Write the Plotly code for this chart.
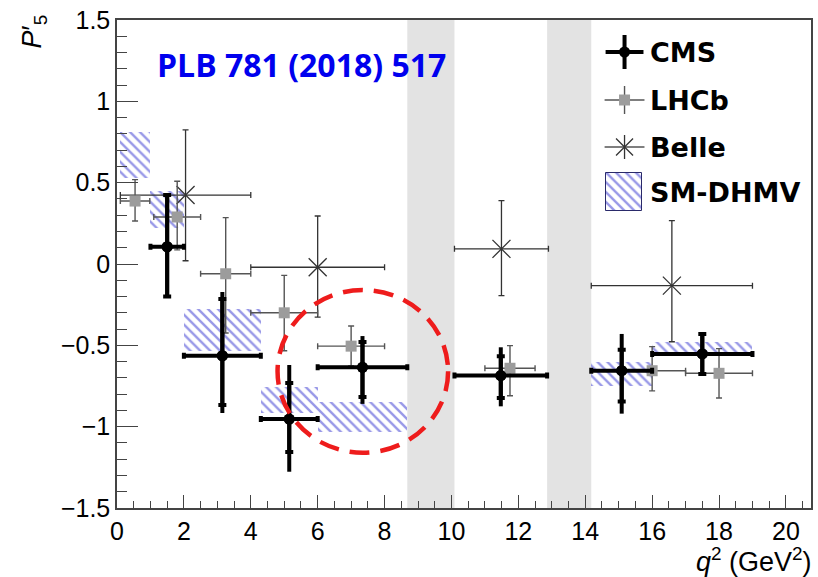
import plotly.graph_objects as go

# ---------------- data ----------------
# CMS (PLB 781 (2018) 517)
cms_xlo = [1.0, 2.0, 4.3, 6.0, 10.09, 14.18, 16.0]
cms_xhi = [2.0, 4.3, 6.0, 8.68, 12.86, 16.0, 19.0]
cms_y = [0.106, -0.564, -0.953, -0.635, -0.686, -0.656, -0.553]
cms_stat_hi = [0.424, -0.215, -0.731, -0.479, -0.567, -0.527, -0.430]
cms_stat_lo = [-0.200, -0.867, -1.155, -0.817, -0.824, -0.846, -0.676]
cms_tot_hi = [0.424, -0.172, -0.621, -0.443, -0.512, -0.430, -0.420]
cms_tot_lo = [-0.200, -0.916, -1.277, -0.860, -0.875, -0.920, -0.686]

# LHCb
lhcb_xlo = [0.1, 1.1, 2.5, 4.0, 6.0, 11.0, 15.0, 17.0]
lhcb_xhi = [0.98, 2.5, 4.0, 6.0, 8.0, 12.5, 17.0, 19.0]
lhcb_y = [0.387, 0.289, -0.060, -0.300, -0.505, -0.641, -0.656, -0.672]
lhcb_err_up = [0.132, 0.220, 0.345, 0.230, 0.124, 0.139, 0.148, 0.152]
lhcb_err_dn = [0.123, 0.202, 0.364, 0.233, 0.122, 0.169, 0.124, 0.152]

# Belle
belle_xlo = [0.1, 4.0, 10.09, 14.18]
belle_xhi = [4.0, 8.0, 12.9, 19.0]
belle_y = [0.424, -0.020, 0.093, -0.133]
belle_err_up = [0.400, 0.315, 0.296, 0.400]
belle_err_dn = [0.404, 0.306, 0.288, 0.345]

# SM-DHMV prediction bands
sm_xlo = [0.1, 1.0, 2.0, 4.3, 6.0, 14.18, 16.0]
sm_xhi = [0.98, 2.0, 4.3, 6.0, 8.68, 16.0, 19.0]
sm_lo = [0.530, 0.222, -0.533, -0.916, -1.030, -0.748, -0.564]
sm_hi = [0.812, 0.450, -0.277, -0.758, -0.850, -0.604, -0.478]

# vetoed resonance regions
veto_lo = [8.68, 12.86]
veto_hi = [10.09, 14.18]

legend_names = ["CMS", "LHCb", "Belle", "SM-DHMV"]
x_ticks = [0, 2, 4, 6, 8, 10, 12, 14, 16, 18, 20]
y_ticks = [-1.5, -1, -0.5, 0, 0.5, 1, 1.5]
y_ticklabels = ["\u22121.5", "\u22121", "\u22120.5", "0", "0.5", "1", "1.5"]

# ---------------- helpers ----------------
def mids(lo, hi):
    return [(a + b) / 2 for a, b in zip(lo, hi)]

def halfw(lo, hi):
    return [(b - a) / 2 for a, b in zip(lo, hi)]

HATCH = "#3030d0"
HATCH_PAT = dict(shape="\\", size=7, solidity=0.34, fgcolor=HATCH,
                 bgcolor="rgba(255,255,255,0)", fillmode="overlay")
fig = go.Figure()

# SM hatched boxes
fig.add_trace(go.Bar(
    x=mids(sm_xlo, sm_xhi),
    width=[b - a for a, b in zip(sm_xlo, sm_xhi)],
    base=sm_lo,
    y=[h - l for l, h in zip(sm_lo, sm_hi)],
    marker=dict(color="rgba(0,0,0,0)", line=dict(width=0), pattern=HATCH_PAT),
    showlegend=False, hoverinfo="skip",
))

# Belle
bx = mids(belle_xlo, belle_xhi)
fig.add_trace(go.Scatter(
    x=bx, y=belle_y, mode="markers",
    marker=dict(symbol="x-thin", size=18, color="#333333",
                line=dict(width=1.3, color="#333333")),
    error_x=dict(type="data", array=halfw(belle_xlo, belle_xhi),
                 color="#333333", thickness=1.3, width=3),
    error_y=dict(type="data", symmetric=False, array=belle_err_up,
                 arrayminus=belle_err_dn, color="#333333", thickness=1.3, width=3),
    showlegend=False,
))

# LHCb
lx = mids(lhcb_xlo, lhcb_xhi)
fig.add_trace(go.Scatter(
    x=lx, y=lhcb_y, mode="markers",
    marker=dict(symbol="square", size=11, color="#9c9c9c"),
    error_x=dict(type="data", array=halfw(lhcb_xlo, lhcb_xhi),
                 color="#555555", thickness=1.4, width=3),
    error_y=dict(type="data", symmetric=False, array=lhcb_err_up,
                 arrayminus=lhcb_err_dn, color="#555555", thickness=1.4, width=3),
    showlegend=False,
))

# CMS total
cx = mids(cms_xlo, cms_xhi)
fig.add_trace(go.Scatter(
    x=cx, y=cms_y, mode="markers",
    marker=dict(symbol="circle", size=11, color="black"),
    error_x=dict(type="data", array=halfw(cms_xlo, cms_xhi),
                 color="black", thickness=4, width=3),
    error_y=dict(type="data", symmetric=False,
                 array=[h - y for h, y in zip(cms_tot_hi, cms_y)],
                 arrayminus=[y - l for l, y in zip(cms_tot_lo, cms_y)],
                 color="black", thickness=4, width=0),
    showlegend=False,
))
# CMS stat (caps)
fig.add_trace(go.Scatter(
    x=cx, y=cms_y, mode="markers",
    marker=dict(symbol="circle", size=11, color="black"),
    error_y=dict(type="data", symmetric=False,
                 array=[h - y for h, y in zip(cms_stat_hi, cms_y)],
                 arrayminus=[y - l for l, y in zip(cms_stat_lo, cms_y)],
                 color="black", thickness=4, width=4),
    showlegend=False,
))

# ---------------- custom legend (pixel-coordinate overlay axes) ----------------
LX = 626
rows = [52, 100, 147, 192]
fig.add_trace(go.Scatter(
    x=[LX], y=[rows[0]], xaxis="x2", yaxis="y2", mode="markers",
    marker=dict(symbol="circle", size=11, color="black"),
    error_x=dict(type="constant", value=19, color="black", thickness=4, width=0),
    error_y=dict(type="constant", value=17, color="black", thickness=4, width=0),
    showlegend=False, hoverinfo="skip"))
fig.add_trace(go.Scatter(
    x=[LX], y=[rows[1]], xaxis="x2", yaxis="y2", mode="markers",
    marker=dict(symbol="square", size=11, color="#9c9c9c"),
    error_x=dict(type="constant", value=20, color="#555555", thickness=1.4, width=0),
    error_y=dict(type="constant", value=14, color="#555555", thickness=1.4, width=0),
    showlegend=False, hoverinfo="skip"))
fig.add_trace(go.Scatter(
    x=[LX], y=[rows[2]], xaxis="x2", yaxis="y2", mode="markers",
    marker=dict(symbol="x-thin", size=17, color="#333333",
                line=dict(width=1.3, color="#333333")),
    error_x=dict(type="constant", value=20, color="#555555", thickness=1.3, width=0),
    error_y=dict(type="constant", value=12, color="#333333", thickness=1.3, width=0),
    showlegend=False, hoverinfo="skip"))
fig.add_trace(go.Bar(
    x=[LX - 0.5], width=[37], base=[rows[3] - 19], y=[38], xaxis="x2", yaxis="y2",
    marker=dict(color="rgba(0,0,0,0)", line=dict(width=1, color="#2a2a6a"),
                pattern=HATCH_PAT),
    showlegend=False, hoverinfo="skip"))

annotations = []
for name, ry in zip(legend_names, rows):
    annotations.append(dict(
        x=650, y=ry, xref="x2", yref="y2", text="<b>" + name + "</b>",
        showarrow=False, xanchor="left", yanchor="middle",
        font=dict(family="DejaVu Sans", size=27, color="black")))

annotations.append(dict(
    x=155, y=64, xref="x2", yref="y2", text="<b>PLB 781 (2018) 517</b>",
    showarrow=False, xanchor="left", yanchor="middle",
    font=dict(family="Open Sans", size=32, color="#0000ee")))

# axis titles
annotations.append(dict(
    x=1.005, y=-0.107, xref="paper", yref="paper",
    text="<i>q</i><sup>2</sup> (GeV<sup>2</sup>)", showarrow=False,
    xanchor="right", yanchor="middle",
    font=dict(family="Liberation Sans", size=27, color="black")))
annotations.append(dict(
    x=-0.12, y=1.015, xref="paper", yref="paper",
    text="<i>P</i>\u2032<sub>5</sub>", showarrow=False, textangle=-90,
    xanchor="center", yanchor="top",
    font=dict(family="Liberation Sans", size=27, color="black")))

shapes = []
for a, b in zip(veto_lo, veto_hi):
    shapes.append(dict(type="rect", xref="x", yref="y", x0=a, x1=b, y0=-1.5, y1=1.5,
                       fillcolor="#e3e3e3", line=dict(width=0), layer="below"))
shapes.append(dict(type="circle", xref="x", yref="y", x0=4.8, x1=9.9, y0=-1.16, y1=-0.16,
                   line=dict(color="#ee1c1c", width=4.5, dash="20px,11px")))

fig.update_layout(
    width=818, height=577,
    margin=dict(l=117, r=5, t=20, b=69),
    paper_bgcolor="white", plot_bgcolor="white",
    barmode="overlay", bargap=0,
    showlegend=False,
    shapes=shapes, annotations=annotations,
    font=dict(family="Liberation Sans", color="black"),
    xaxis=dict(range=[0, 20.75], tickvals=x_ticks, ticks="inside", ticklen=13,
               tickwidth=1.3, tickcolor="#444", showline=True, linecolor="#444",
               linewidth=1.5, mirror=True, showgrid=False, zeroline=False,
               tickfont=dict(size=25, family="Liberation Sans"),
               minor=dict(dtick=0.5, ticks="inside", ticklen=7, tickwidth=1.3,
                          tickcolor="#444", showgrid=False)),
    yaxis=dict(range=[-1.5, 1.5], tickvals=y_ticks, ticktext=y_ticklabels,
               ticks="inside", ticklen=21, tickwidth=1.3, tickcolor="#444",
               showline=True, linecolor="#444", linewidth=1.5, mirror=True,
               showgrid=False, zeroline=False,
               tickfont=dict(size=25, family="Liberation Sans"),
               minor=dict(dtick=0.1, ticks="inside", ticklen=10, tickwidth=1.3,
                          tickcolor="#444", showgrid=False)),
    xaxis2=dict(overlaying="x", range=[117, 813], visible=False, fixedrange=True),
    yaxis2=dict(overlaying="y", range=[508, 20], visible=False, fixedrange=True),
)

fig.write_html(
    "out.html",
    config={"displayModeBar": False},
    post_script="document.body.style.margin='0';document.body.style.padding='0';"
                "document.documentElement.style.overflow='hidden';",
)
